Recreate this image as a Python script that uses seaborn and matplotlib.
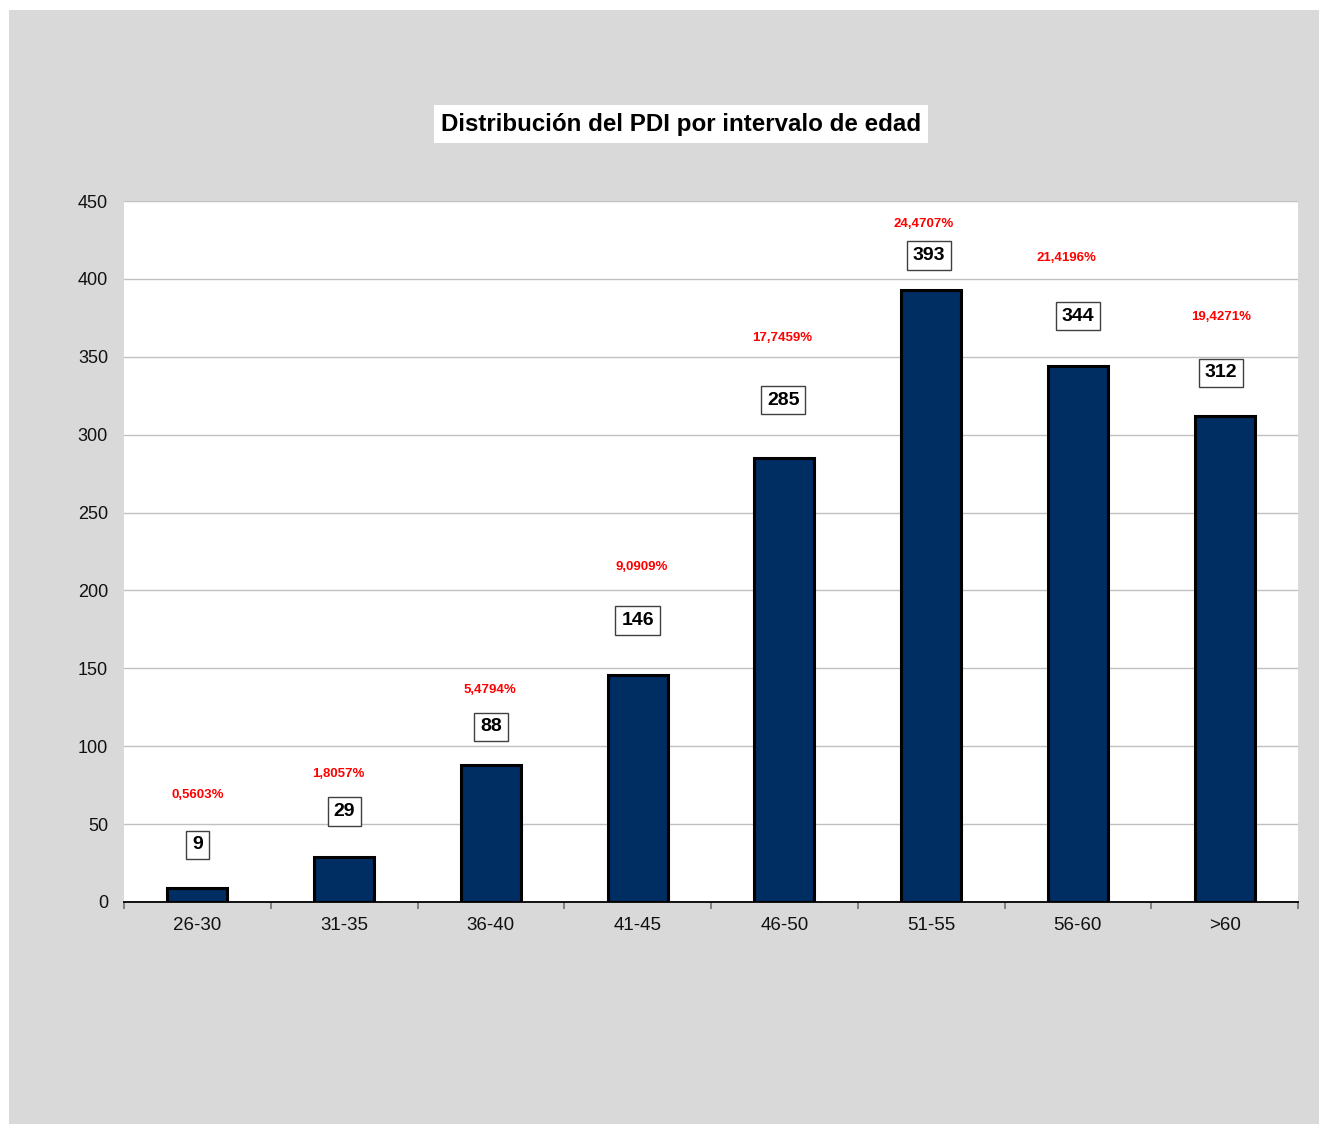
import numpy as np
import pandas as pd
import seaborn as sns
import matplotlib.pyplot as plt
from matplotlib.patches import Rectangle

# data
age_groups = ['26-30', '31-35', '36-40', '41-45', '46-50', '51-55', '56-60', '>60']
pdi_counts = [9, 29, 88, 146, 285, 393, 344, 312]
pct_labels = ['0,5603%', '1,8057%', '5,4794%', '9,0909%',
              '17,7459%', '24,4707%', '21,4196%', '19,4271%']

# label placement (pixels above bar top / horizontal nudge)
box_dy = [43, 45, 38, 54, 58, 34, 50, 43]
box_dx = [0, 0, 0, 0, -1, -2, 0, -4]
pct_dy = [93, 83, 75, 108, 120, 66, 108, 99]
pct_dx = [0, -6, -1, 4, -2, -8, -11, -4]

sns.set_theme(style='white')
plt.rcParams['font.family'] = ['Liberation Sans', 'DejaVu Sans']

df = pd.DataFrame({'edad': age_groups, 'pdi': pdi_counts})

fig = plt.figure(figsize=(13.19, 11.24), dpi=100, facecolor='white')
fig.patches.append(Rectangle((9 / 1319, 0), 1 - 9 / 1319, 1 - 10 / 1124,
                             transform=fig.transFigure, facecolor='#d9d9d9',
                             edgecolor='none', zorder=-1))
ax = fig.add_axes([124 / 1319, 1 - 902 / 1124, (1298 - 124) / 1319, (902 - 201) / 1124])
ax.set_facecolor('white')

sns.barplot(data=df, x='edad', y='pdi', color='#002d62', width=0.41,
            edgecolor='black', linewidth=2.2, saturation=1, ax=ax, zorder=3)

ax.set_ylim(0, 450)
ax.set_xlim(-0.5, len(age_groups) - 0.5)
ax.set_yticks(np.arange(0, 451, 50))
ax.yaxis.grid(True, color='#c0c0c0', linewidth=1, zorder=0)
ax.set_axisbelow(True)
ax.set_xlabel('')
ax.set_ylabel('')

for side in ['top', 'right', 'left']:
    ax.spines[side].set_visible(False)
ax.spines['bottom'].set_color('black')
ax.spines['bottom'].set_linewidth(1.3)
ax.spines['bottom'].set_zorder(4)

ax.tick_params(axis='y', length=0, pad=11.5, labelsize=13, labelcolor='#111111')
ax.tick_params(axis='x', which='major', bottom=True, length=0, pad=11, labelsize=13.5,
               labelcolor='#111111')
ax.set_xticks(np.arange(-0.5, len(age_groups), 1), minor=True)
ax.tick_params(axis='x', which='minor', bottom=True, length=5, width=1.2, color='#707070',
               direction='out')

for i, (v, p) in enumerate(zip(pdi_counts, pct_labels)):
    ax.annotate(str(v), xy=(i, v), xytext=(box_dx[i], box_dy[i]), textcoords='offset pixels',
                ha='center', va='center', fontsize=14, fontweight='bold', color='black',
                bbox=dict(boxstyle='square,pad=0.3', facecolor='white',
                          edgecolor='#404040', linewidth=1), zorder=5)
    ax.annotate(p, xy=(i, v), xytext=(pct_dx[i], pct_dy[i]), textcoords='offset pixels',
                ha='center', va='center', fontsize=9.5, fontweight='bold', color='#ff0000',
                bbox=dict(boxstyle='square,pad=0.3', facecolor='white', edgecolor='none'),
                zorder=5)

fig.text(681 / 1319, 1 - 124 / 1124, 'Distribución del PDI por intervalo de edad',
         ha='center', va='center', fontsize=17.35, fontweight='bold', color='black',
         bbox=dict(boxstyle='square,pad=0.3', facecolor='white', edgecolor='none'))

fig.savefig('out.png', dpi=100, facecolor=fig.get_facecolor())
